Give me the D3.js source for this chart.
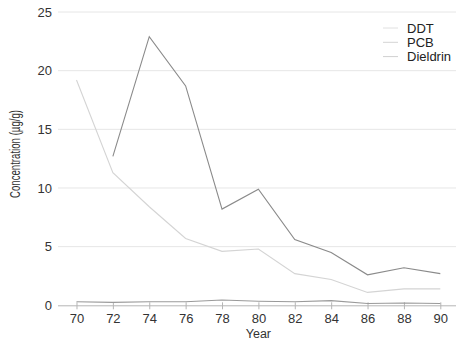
<!DOCTYPE html>
<html>
<head>
<meta charset="utf-8">
<script src="https://cdn.jsdelivr.net/npm/d3@7"></script>
<style>
  body { margin: 0; background: #fff; }
  svg { display: block; font-family: "Liberation Sans", Arial, sans-serif; }
</style>
</head>
<body>
<div class="container"></div>
<script>
// data
var years = [70, 72, 74, 76, 78, 80, 82, 84, 86, 88, 90];
var ddt = [19.2, 11.3, 8.4, 5.7, 4.6, 4.8, 2.7, 2.2, 1.1, 1.4, 1.4];
var pcb = [null, 12.7, 22.9, 18.7, 8.2, 9.9, 5.6, 4.5, 2.6, 3.2, 2.7];
var dieldrin = [0.3, 0.25, 0.3, 0.3, 0.45, 0.35, 0.3, 0.4, 0.15, 0.2, 0.15];
var seriesNames = ["DDT", "PCB", "Dieldrin"];
var yTicks = [0, 5, 10, 15, 20, 25];

var W = 456, H = 339;

var series = [
  {name: seriesNames[0], values: ddt, color: "#d4d4d4", swatch: "#e0e0e0"},
  {name: seriesNames[1], values: pcb, color: "#8a8a8a", swatch: "#d4d4d4"},
  {name: seriesNames[2], values: dieldrin, color: "#9a9a9a", swatch: "#d0d0d0"}
];

var svg = d3.select(".container").append("svg")
  .attr("width", W)
  .attr("height", H);

var x = d3.scaleLinear().domain([69, 91]).range([58.3, 458.5]);
var y = d3.scaleLinear().domain([0, 25]).range([305.3, 12]);

// gridlines
svg.append("g")
  .selectAll("line")
  .data(yTicks.filter(function(d) { return d > 0; }))
  .join("line")
  .attr("x1", 58)
  .attr("x2", W)
  .attr("y1", function(d) { return y(d); })
  .attr("y2", function(d) { return y(d); })
  .attr("stroke", "#e6e6e6")
  .attr("stroke-width", 1);

// y tick labels (no axis line)
var yAxis = svg.append("g")
  .attr("transform", "translate(58,0)")
  .call(d3.axisLeft(y).tickValues(yTicks).tickSize(0).tickPadding(6));
yAxis.select(".domain").remove();
yAxis.selectAll("text")
  .attr("font-size", 13)
  .attr("font-family", "Liberation Sans, Arial, sans-serif")
  .attr("fill", "#333");

// x axis
var xAxis = svg.append("g")
  .attr("transform", "translate(0," + y(0) + ")")
  .call(d3.axisBottom(x).tickValues(years).tickSize(4).tickPadding(4).tickSizeOuter(0));
xAxis.select(".domain").attr("stroke", "#b5b5b5").attr("d", "M58," + 0.5 + "H" + W);
xAxis.selectAll(".tick line").attr("stroke", "#b5b5b5").attr("y1", -3);
xAxis.selectAll("text")
  .attr("font-size", 13)
  .attr("font-family", "Liberation Sans, Arial, sans-serif")
  .attr("fill", "#333");

// lines
var line = d3.line()
  .defined(function(d) { return d[1] != null; })
  .x(function(d) { return x(d[0]); })
  .y(function(d) { return y(d[1]); });

svg.append("g")
  .selectAll("path")
  .data(series)
  .join("path")
  .attr("d", function(s) { return line(years.map(function(yr, i) { return [yr, s.values[i]]; })); })
  .attr("fill", "none")
  .attr("stroke", function(s) { return s.color; })
  .attr("stroke-width", 1.1);

// axis titles
svg.append("text")
  .attr("x", x(80))
  .attr("y", 337.5)
  .attr("text-anchor", "middle")
  .attr("font-size", 12.5)
  .attr("fill", "#333")
  .text("Year");

svg.append("text")
  .attr("transform", "translate(20,154) rotate(-90)")
  .attr("text-anchor", "middle")
  .attr("font-size", 15)
  .attr("font-family", "Liberation Sans Narrow, Liberation Sans, Arial, sans-serif")
  .attr("textLength", 88)
  .attr("lengthAdjust", "spacingAndGlyphs")
  .attr("fill", "#333")
  .text("Concentration (µg/g)");

// legend
var legend = svg.append("g")
  .selectAll("g")
  .data(series)
  .join("g")
  .attr("transform", function(d, i) { return "translate(383," + (28 + i * 14.3) + ")"; });

legend.append("line")
  .attr("x1", 0).attr("x2", 15)
  .attr("stroke", function(d) { return d.swatch; })
  .attr("stroke-width", 1);

legend.append("text")
  .attr("x", 24)
  .attr("dy", "0.35em")
  .attr("font-size", 13)
  .attr("fill", "#222")
  .text(function(d) { return d.name; });
</script>
</body>
</html>
